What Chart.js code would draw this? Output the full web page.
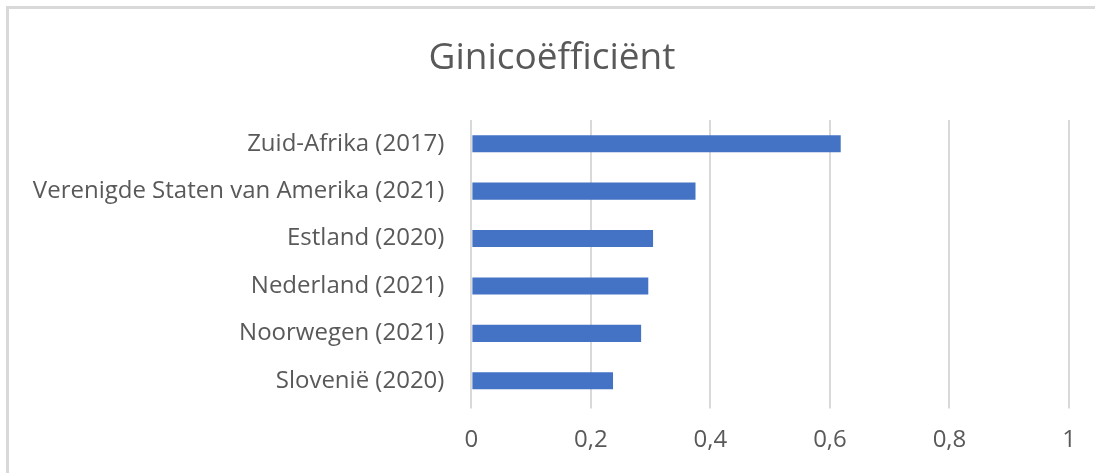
<!DOCTYPE html>
<html>
<head>
<meta charset="utf-8">
<script src="https://cdn.jsdelivr.net/npm/chart.js@4/dist/chart.umd.min.js"></script>
<style>
  body { margin: 0; background: #fff; }
  #wrap { position: relative; width: 1095px; height: 473px; overflow: hidden; }
  #frame { position: absolute; left: 6px; top: 6px; width: 1200px; height: 600px; border: 3px solid #d9d9d9; box-sizing: border-box; }
  canvas { position: absolute; left: 0; top: 0; }
</style>
</head>
<body>
<div id="wrap">
  <div id="frame"></div>
  <canvas id="giniChart" width="1095" height="473"></canvas>
</div>
<script>
// landen (van boven naar beneden)
const landen = [
  'Zuid-Afrika (2017)',
  'Verenigde Staten van Amerika (2021)',
  'Estland (2020)',
  'Nederland (2021)',
  'Noorwegen (2021)',
  'Slovenië (2020)'
];
const gini = [0.618, 0.375, 0.304, 0.296, 0.284, 0.237];
const asMin = 0;
const asMax = 1;
const asStap = 0.2;

const grijs = '#595959';
const fontNaam = '"Open Sans", sans-serif';

// titel staat in het origineel iets rechts van het midden
const titelSchuif = {
  id: 'titelSchuif',
  afterLayout(chart) {
    if (chart.titleBlock) chart.titleBlock.left += 35;
  }
};

new Chart(document.getElementById('giniChart'), {
  type: 'bar',
  data: {
    labels: landen,
    datasets: [{
      data: gini,
      backgroundColor: '#4472c4',
      borderWidth: 0,
      categoryPercentage: 1,
      barPercentage: 0.36
    }]
  },
  options: {
    indexAxis: 'y',
    responsive: false,
    animation: false,
    devicePixelRatio: 1,
    layout: { padding: { top: 0, right: 26, bottom: 10, left: 0 } },
    plugins: {
      legend: { display: false },
      tooltip: { enabled: false },
      title: {
        display: true,
        text: 'Ginicoëfficiënt',
        color: grijs,
        font: { family: fontNaam, size: 37, weight: 'normal' },
        padding: { top: 36, bottom: 39.6 }
      }
    },
    scales: {
      x: {
        min: asMin,
        max: asMax,
        ticks: {
          stepSize: asStap,
          color: grijs,
          font: { family: fontNaam, size: 24 },
          padding: 17,
          callback: v => String(+v.toFixed(2)).replace('.', ',')
        },
        grid: { color: '#d9d9d9', lineWidth: 2, tickLength: 4 },
        border: { display: false },
        afterFit: s => { s.height = 473 - 404.5 - 10; }
      },
      y: {
        ticks: {
          color: grijs,
          font: { family: fontNaam, size: 24 },
          padding: 27
        },
        grid: { display: false, drawTicks: false },
        border: { display: false },
        afterFit: s => { s.width = 471.4; }
      }
    }
  },
  plugins: [titelSchuif]
});
</script>
</body>
</html>
